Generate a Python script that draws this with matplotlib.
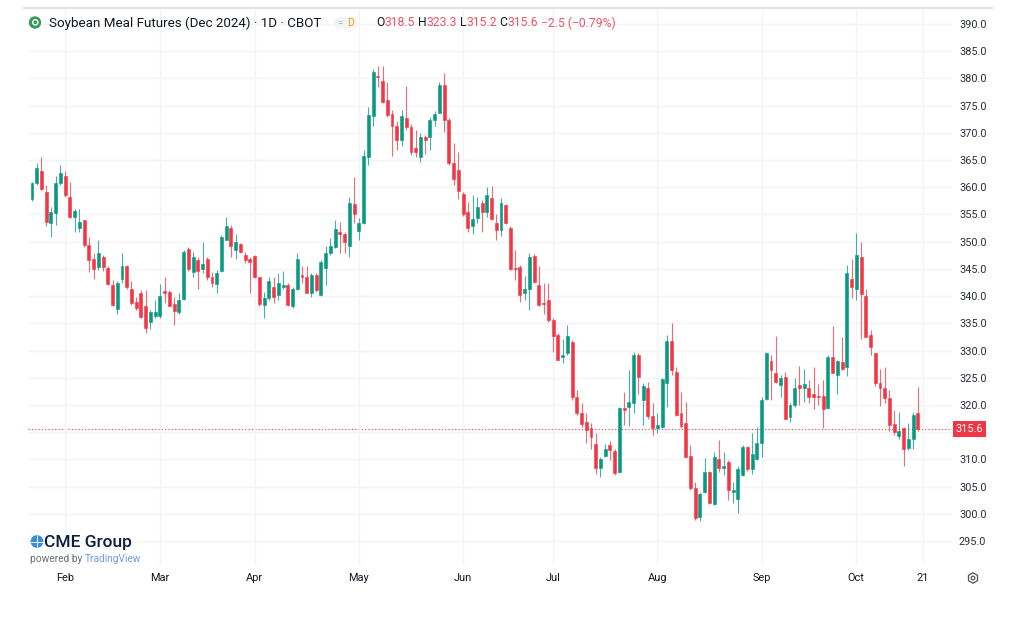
import numpy as np
import pandas as pd
import matplotlib.pyplot as plt
from matplotlib.patches import Circle, FancyBboxPatch, RegularPolygon
from matplotlib.transforms import blended_transform_factory

plt.rcParams['font.family'] = ['Roboto', 'DejaVu Sans']

# daily candles, Soybean Meal Dec 2024, 23 Jan - 18 Oct 2024
opens = [
    357.8, 360.8, 363.05, 359.2, 353.5, 355.2, 360.8, 362.0, 358.3, 354.5,
    352.5, 353.9, 349.4, 346.75, 345.4, 347.25, 345.1, 342.0, 337.6, 343.1,
    345.5, 341.4, 339.0, 340.6, 338.1, 335.3, 336.3, 336.3, 340.9, 340.7,
    338.55, 337.0, 339.4, 348.6, 344.5, 346.6, 344.9, 346.9, 343.6, 342.2,
    344.7, 350.4, 352.6, 348.5, 349.6, 347.55, 346.75, 347.4, 343.45, 338.4,
    339.6, 341.7, 340.2, 341.7, 342.0, 338.2, 341.25, 343.9, 343.45, 340.6,
    343.9, 340.2, 345.1, 348.0, 349.0, 351.85, 351.35, 349.2, 356.9, 352.0,
    353.4, 365.5, 373.1, 380.4, 379.6, 376.0, 373.5, 371.3, 368.6, 372.7,
    371.1, 367.2, 365.5, 369.2, 369.2, 372.4, 373.7, 378.8, 372.4, 364.4,
    363.2, 358.75, 355.5, 352.9, 354.3, 357.2, 355.5, 358.0, 353.5, 352.15,
    356.7, 352.6, 345.2, 345.4, 340.6, 341.4, 347.4, 342.0, 338.7, 339.3,
    335.6, 332.9, 328.8, 329.5, 331.6, 321.4, 318.6, 316.9, 315.7, 312.9,
    308.4, 310.6, 312.65, 311.6, 307.75, 319.4, 319.6, 320.3, 329.2, 321.0,
    323.06, 318.0, 315.7, 315.9, 324.0, 331.8, 326.1, 318.5, 316.6, 310.6,
    304.7, 299.5, 304.07, 307.6, 301.8, 310.0, 308.5, 309.6, 304.07, 302.7,
    307.1, 312.3, 308.2, 310.0, 312.95, 321.03, 328.1, 325.8, 323.7, 325.1,
    317.85, 320.0, 323.67, 323.05, 323.05, 322.1, 321.6, 321.6, 319.4, 328.75,
    325.5, 327.96, 327.0, 343.1, 341.25, 347.1, 340.0, 332.85, 329.5, 324.0,
    323.05, 321.2, 316.5, 314.3, 315.7, 312.05, 313.7, 318.5,
]
highs = [
    361.0, 364.5, 365.6, 360.4, 356.4, 362.0, 364.1, 363.05, 361.0, 356.1,
    356.1, 354.0, 350.9, 347.9, 350.4, 347.6, 345.5, 342.9, 342.7, 347.9,
    345.7, 342.7, 339.9, 341.2, 341.1, 337.5, 339.3, 342.2, 343.5, 341.1,
    339.9, 340.5, 348.5, 349.0, 348.2, 347.25, 350.0, 347.1, 344.5, 344.8,
    351.2, 354.5, 353.1, 351.4, 349.8, 348.2, 347.25, 347.6, 343.6, 340.8,
    343.6, 343.6, 344.3, 344.7, 342.35, 341.7, 348.0, 345.5, 345.5, 344.3,
    344.2, 346.6, 349.2, 350.6, 354.0, 353.7, 351.7, 358.3, 361.8, 354.3,
    366.85, 374.7, 381.7, 382.3, 382.3, 379.4, 374.2, 372.1, 374.2, 378.6,
    371.7, 370.6, 369.9, 369.6, 373.0, 374.1, 379.4, 381.0, 372.7, 368.1,
    366.4, 359.2, 357.3, 358.6, 358.3, 357.7, 360.1, 360.2, 355.1, 358.0,
    357.0, 352.9, 348.5, 345.7, 343.7, 348.0, 347.7, 345.5, 342.35, 342.5,
    335.9, 333.2, 332.1, 334.7, 331.9, 322.75, 320.3, 318.5, 316.6, 314.8,
    310.5, 312.9, 313.3, 312.0, 319.7, 322.45, 326.4, 329.8, 329.5, 324.0,
    324.3, 320.3, 318.5, 324.9, 332.85, 335.0, 327.0, 322.3, 320.6, 312.6,
    305.9, 304.1, 310.2, 307.9, 311.4, 313.56, 311.4, 309.9, 305.9, 308.7,
    312.6, 312.45, 314.8, 316.0, 321.5, 329.8, 329.2, 332.7, 325.5, 326.1,
    320.3, 324.9, 327.2, 326.7, 324.6, 327.0, 323.85, 324.6, 329.2, 334.5,
    328.3, 332.4, 345.7, 346.75, 351.65, 350.0, 341.25, 333.8, 329.6, 326.7,
    327.0, 322.75, 319.1, 318.8, 315.9, 316.6, 318.8, 323.3,
]
lows = [
    357.4, 360.4, 359.5, 352.8, 350.9, 353.1, 360.4, 358.3, 354.3, 351.7,
    351.8, 349.1, 344.5, 343.1, 344.8, 344.7, 342.0, 338.1, 336.8, 342.4,
    341.4, 338.4, 337.5, 335.9, 333.3, 333.9, 335.9, 335.9, 338.7, 338.1,
    334.7, 336.8, 339.3, 344.7, 343.6, 341.4, 344.2, 342.9, 341.7, 340.5,
    344.5, 350.3, 347.25, 346.9, 347.9, 346.15, 340.5, 343.3, 338.1, 335.9,
    339.3, 338.7, 339.3, 341.4, 338.1, 337.75, 341.1, 342.35, 340.5, 339.9,
    340.8, 340.0, 342.0, 347.6, 348.8, 347.9, 347.9, 347.2, 353.4, 350.4,
    353.2, 364.1, 371.3, 378.4, 375.4, 373.0, 365.75, 366.85, 367.5, 370.5,
    365.9, 365.6, 364.7, 366.2, 366.85, 371.3, 373.6, 370.2, 364.1, 360.4,
    357.8, 354.7, 351.85, 351.5, 353.4, 351.85, 354.6, 353.9, 350.4, 351.05,
    353.25, 344.8, 343.0, 339.0, 339.3, 337.4, 342.35, 338.1, 336.8, 335.3,
    329.8, 328.2, 327.7, 329.2, 320.9, 318.2, 316.0, 313.1, 312.0, 307.4,
    306.8, 310.4, 309.9, 307.1, 307.45, 316.3, 316.1, 318.5, 322.1, 316.3,
    317.5, 314.5, 314.8, 315.7, 319.7, 325.5, 318.0, 315.7, 310.4, 304.4,
    298.9, 298.6, 303.8, 301.8, 301.6, 307.7, 307.1, 302.5, 302.05, 300.2,
    307.0, 307.9, 307.4, 309.9, 310.5, 320.9, 320.9, 324.0, 321.5, 317.4,
    316.9, 319.7, 320.0, 320.6, 320.4, 319.2, 320.0, 315.7, 319.2, 325.8,
    322.1, 326.5, 325.3, 339.6, 339.3, 332.05, 332.4, 329.2, 323.4, 319.8,
    320.4, 315.3, 314.5, 313.7, 308.8, 311.7, 311.85, 315.2,
]
closes = [
    360.7, 363.5, 359.6, 353.7, 355.5, 360.7, 362.6, 358.6, 354.6, 355.7,
    353.7, 349.4, 346.6, 344.9, 347.9, 345.3, 342.2, 338.4, 342.5, 345.5,
    341.7, 338.7, 337.75, 336.2, 334.1, 337.0, 337.1, 340.0, 340.5, 338.2,
    337.3, 339.3, 348.2, 344.9, 347.25, 344.7, 345.9, 343.6, 342.4, 344.3,
    350.9, 352.9, 349.2, 350.0, 348.2, 346.6, 346.3, 343.45, 338.55, 339.6,
    342.7, 339.9, 342.5, 342.0, 338.4, 341.25, 346.9, 343.45, 340.6, 343.9,
    341.1, 346.3, 347.9, 349.2, 352.3, 351.5, 350.0, 357.2, 355.1, 353.5,
    365.75, 373.3, 381.2, 380.2, 375.7, 373.3, 371.3, 368.6, 373.1, 371.0,
    366.5, 366.5, 369.2, 368.7, 372.4, 373.5, 378.8, 372.4, 364.4, 361.5,
    359.4, 355.1, 352.6, 354.1, 356.4, 355.5, 358.6, 354.1, 352.1, 357.2,
    353.5, 344.9, 344.9, 340.2, 341.4, 347.1, 342.65, 338.4, 338.5, 335.6,
    332.7, 328.3, 329.2, 332.6, 321.5, 318.6, 316.5, 315.4, 314.2, 308.4,
    310.0, 312.0, 311.7, 307.45, 319.4, 319.1, 320.6, 329.2, 325.2, 323.5,
    317.9, 315.7, 316.3, 324.7, 331.8, 326.5, 318.2, 316.1, 310.5, 304.7,
    299.2, 303.6, 307.6, 302.05, 310.5, 308.35, 308.8, 304.3, 304.37, 308.2,
    312.3, 308.2, 311.0, 313.07, 320.9, 329.6, 326.4, 324.3, 324.9, 317.5,
    320.0, 323.05, 323.05, 323.85, 321.5, 321.5, 321.5, 319.2, 328.75, 325.9,
    328.1, 326.7, 344.2, 341.7, 347.55, 340.4, 332.55, 330.6, 324.0, 323.05,
    321.2, 316.3, 315.1, 315.3, 311.85, 313.7, 318.1, 315.6,
]
holidays = ['2024-02-19', '2024-03-29', '2024-05-27', '2024-06-19',
            '2024-07-04', '2024-09-02']
yticks = np.arange(295, 390 + .1, 5)

up_col = '#089981'
dn_col = '#F23645'
txt_col = '#131722'

if __name__ == '__main__':
    # trading days, one extra slot (21 Oct) for the last axis label
    dates = pd.bdate_range('2024-01-23', '2024-10-21', freq='C',
                           holidays=holidays)
    o = np.array(opens)
    h = np.array(highs)
    l = np.array(lows)
    c = np.array(closes)
    idx = np.arange(len(o))
    cols = np.where(c >= o, up_col, dn_col)

    month_pos = [i for i in range(1, len(dates))
                 if dates[i].month != dates[i - 1].month]
    tick_pos = month_pos + [len(dates) - 1]
    tick_lab = [dates[i].strftime('%b') for i in month_pos] + \
        [str(dates[-1].day)]

    W, H = 1024, 617
    fig = plt.figure(figsize=(W / 100, H / 100), dpi=100)
    ax = fig.add_axes([28 / W, 1 - 565 / H, (952 - 28) / W, (565 - 8) / H])

    ax.vlines(idx, l, h, colors=cols, lw=0.8, alpha=0.75, zorder=2)
    ax.bar(idx, c - o, bottom=o, width=0.62, color=cols, edgecolor=cols,
           lw=0.4, zorder=3)

    ax.axhline(c[-1], color=dn_col, lw=0.8, ls=(0, (1, 2)), zorder=1)

    ax.set_xlim(-0.84, 194.2)
    ax.set_ylim(290.6, 392.94)
    ax.set_xticks(tick_pos)
    ax.set_xticklabels(tick_lab)
    ax.set_yticks(yticks)
    # the tick hidden under the last-price tag stays unlabelled
    ax.set_yticklabels(['' if abs(v - c[-1]) < 2.5 else f'{v:.1f}'
                        for v in yticks])
    ax.yaxis.tick_right()
    ax.tick_params(axis='y', length=0, pad=5, labelsize=7.8,
                   labelcolor='#2a2e39')
    ax.tick_params(axis='x', length=0, pad=5.5, labelsize=7.9,
                   labelcolor=txt_col)
    ax.grid(True, color='#f3f4f8', lw=1.0, zorder=0)
    for s in ax.spines.values():
        s.set_visible(False)

    # last price label
    tr = blended_transform_factory(ax.transAxes, ax.transData)
    ax.text(1.004, c[-1], f'{c[-1]:.1f}', transform=tr, ha='left',
            va='center', fontsize=7.8, color='w',
            bbox=dict(boxstyle='square,pad=0.28', fc=dn_col, ec='none'))

    # overlay in pixel units for header and logos
    ov = fig.add_axes([0, 0, 1, 1], zorder=5)
    ov.set_xlim(0, W)
    ov.set_ylim(H, 0)
    ov.axis('off')
    ov.patch.set_alpha(0)

    ov.plot([23, 993], [8, 8], color='#e0e3eb', lw=1.6,
            solid_capstyle='butt')

    ov.add_patch(Circle((35, 22.5), 6.2, fc='#3a9a5a', ec='none'))
    ov.add_patch(Circle((35.3, 22.3), 2.6, fc='none', ec='w', lw=1.0))

    fig.canvas.draw()
    rend = fig.canvas.get_renderer()

    ov.text(49, 23, 'Soybean Meal Futures (Dec 2024) · 1D · CBOT',
            fontsize=9.6, color=txt_col, va='center', ha='left')

    ov.add_patch(FancyBboxPatch((334, 17), 24, 11.5,
                                boxstyle='round,pad=0,rounding_size=5',
                                fc='#f4f5f8', ec='none'))
    ov.text(340, 23, '=', fontsize=7, color='#b2b5be', va='center',
            ha='center')
    ov.text(351, 23, 'D', fontsize=7.5, color='#ff9800', va='center',
            ha='center')

    red_txt = '#ef5366'
    chg = c[-1] - c[-2]
    pieces = [
        ('O', txt_col), (f'{o[-1]:.1f}', red_txt), (' H', txt_col),
        (f'{h[-1]:.1f}', red_txt), (' L', txt_col), (f'{l[-1]:.1f}', red_txt),
        (' C', txt_col), (f'{c[-1]:.1f}', red_txt),
        (f' \u2212{abs(chg):.1f} (\u2212{abs(chg) / c[-2] * 100:.2f}%)',
         red_txt),
    ]
    x0 = 376
    for s, col in pieces:
        t = ov.text(x0, 23, s, fontsize=8.7, color=col, va='center',
                    ha='left')
        x0 += t.get_window_extent(rend).width

    # CME Group logo
    ov.add_patch(Circle((37, 541.5), 6.4, fc='#3b8fd6', ec='none'))
    ov.plot([30.6, 43.4], [541.5, 541.5], color='w', lw=0.6)
    ov.plot([37, 37], [535.1, 547.9], color='w', lw=0.6)
    ov.text(44, 542, 'CME Group', fontsize=12.5, color='#0d1f3c',
            fontweight='medium', va='center', ha='left')
    t = ov.text(30, 558.5, 'powered by ', fontsize=7.3, color='#6a6d78',
                va='center', ha='left')
    ov.text(30 + t.get_window_extent(rend).width, 558.5, 'TradingView',
            fontsize=7.3, color='#6f9be0', va='center', ha='left')

    # settings gear
    ov.add_patch(RegularPolygon((973, 578), 6, radius=5.2, fc='none',
                                ec='#50535e', lw=0.9))
    ov.add_patch(Circle((973, 578), 1.8, fc='none', ec='#50535e', lw=0.9))

    fig.savefig('out.png', dpi=100)
